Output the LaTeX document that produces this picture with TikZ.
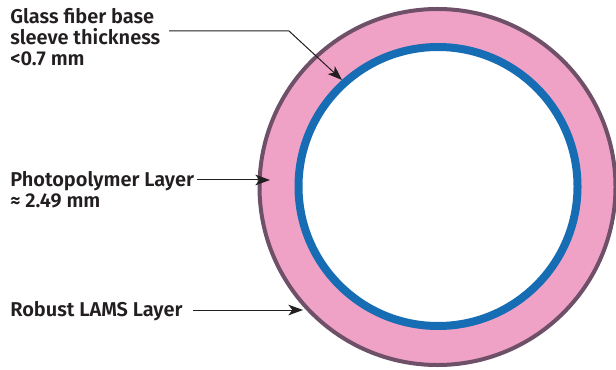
\documentclass[tikz,border=0pt]{standalone}
\usepackage{fontspec}
\setmainfont{Fira Sans}[UprightFont=* SemiBold]
\usetikzlibrary{arrows.meta}
\definecolor{ringpink}{HTML}{F0A2C6}
\definecolor{ringedge}{HTML}{6E5068}
\definecolor{sleeveblue}{HTML}{176DB4}
\definecolor{labeltext}{HTML}{231F20}
\tikzset{
  label text/.style={anchor=base west,inner sep=0pt,align=left,text=labeltext,
    font=\fontsize{15pt}{15.75pt}\selectfont},
  leader/.style={draw=labeltext,line width=0.75pt,
    -{Stealth[length=11pt,width=8pt,inset=3pt]}},
}
\begin{document}
\begin{tikzpicture}[x=0.75pt,y=0.75pt,yscale=-1,xscale=1]
\useasboundingbox (0,0) rectangle (616,370);

%Shape: Circle (LAMS layer + photopolymer)
\draw [ringedge,fill=ringpink,line width=3pt] (437.5,187) circle (178) ;
%Shape: Circle (glass fiber sleeve)
\draw [sleeveblue,fill=white,line width=6pt] (438,186.5) circle (139.5) ;

% Text Node (base is the last line)
\node [label text] (glass) at (10,66) {Glass fiber base\\sleeve thickness\\<0.7 mm};
% Text Node
\node [label text] (photo) at (10,186) {Photopolymer Layer};
% Text Node
\node [label text] (photomm) at (10,207) {≈ 2.49 mm};
% Text Node
\node [label text] (lams) at (10,316) {Robust LAMS Layer};

% Arrow tips
\coordinate (glassStart) at (169,31);
\coordinate (glassBend) at (289,31);
\coordinate (glassTip) at (342,80);
\coordinate (photoTip) at (270,180);
\coordinate (lamsTip) at (303,310);

\draw [leader] (glassStart) -- (glassBend) -- (glassTip) ;
\draw [leader] ([shift={(3,-6)}]photo.base east) -- (photoTip) ;
\draw [leader] ([shift={(10,-6)}]lams.base east) -- (lamsTip) ;
\end{tikzpicture}
\end{document}
